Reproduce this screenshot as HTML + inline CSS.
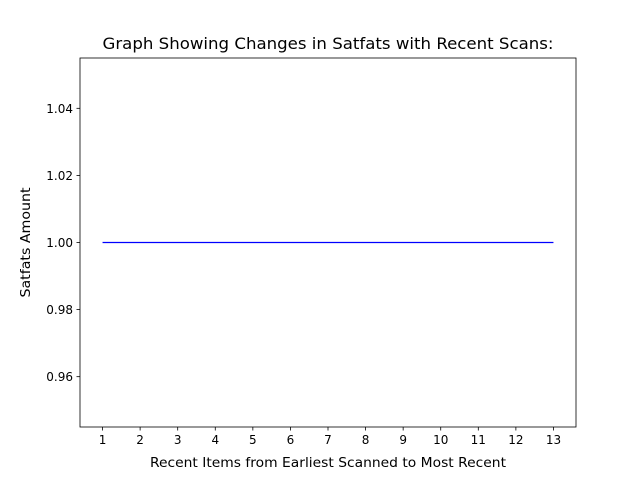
<!DOCTYPE html>
<html><head><meta charset="utf-8"><style>
body{margin:0;background:#fff;}
svg{display:block;font-family:"DejaVu Sans","Liberation Sans",sans-serif;}
</style></head><body>
<svg id="chart" width="640" height="480">
<rect x="0" y="0" width="640" height="480" fill="#fff"/>
<text x="328" y="49" font-size="16" text-anchor="middle" textLength="451" lengthAdjust="spacingAndGlyphs">Graph Showing Changes in Satfats with Recent Scans:</text>
<g id="xt"></g>
<g id="yt"></g>
<g id="series"></g>
<rect x="80" y="58" width="496" height="369" fill="none" stroke="#000" stroke-width="0.8"/>
<text x="328" y="467" font-size="13.5" text-anchor="middle" textLength="356" lengthAdjust="spacingAndGlyphs">Recent Items from Earliest Scanned to Most Recent</text>
<text transform="translate(30,242.5) rotate(-90)" font-size="13.5" text-anchor="middle" textLength="110" lengthAdjust="spacingAndGlyphs">Satfats Amount</text>
</svg>
<script>
const xValues=[1,2,3,4,5,6,7,8,9,10,11,12,13];
const yValues=[1,1,1,1,1,1,1,1,1,1,1,1,1];
const yTicks=[0.96,0.98,1.00,1.02,1.04];
const yTickLabels=["0.96","0.98","1.00","1.02","1.04"];
const NS="http://www.w3.org/2000/svg";
const L=80,R=576,T=58,B=427;
const xmin=Math.min(...xValues),xmax=Math.max(...xValues);
const xpad=(xmax-xmin)*0.05||0.05;
const X0=xmin-xpad,X1=xmax+xpad;
let ymin=Math.min(...yValues),ymax=Math.max(...yValues);
let Y0,Y1;
if(ymax===ymin){Y0=ymin-0.055*Math.abs(ymin||1);Y1=ymax+0.055*Math.abs(ymax||1);}
else{const p=(ymax-ymin)*0.05;Y0=ymin-p;Y1=ymax+p;}
const sx=v=>L+(v-X0)/(X1-X0)*(R-L);
const sy=v=>B-(v-Y0)/(Y1-Y0)*(B-T);
function mk(t,a,p){const e=document.createElementNS(NS,t);for(const k in a)e.setAttribute(k,a[k]);p.appendChild(e);return e;}
const xt=document.getElementById('xt'),yt=document.getElementById('yt');
xValues.forEach(v=>{
  const l=mk('line',{x1:sx(v),x2:sx(v),y1:B,y2:B+3.5,stroke:'#000','stroke-width':0.8},xt);
  
  
  const t=mk('text',{x:sx(v),y:B+17,'font-size':12,'text-anchor':'middle'},xt);
  t.textContent=String(v);
  
  
});
yTicks.forEach((v,i)=>{
  const l=mk('line',{x1:L-3.5,x2:L,y1:sy(v),y2:sy(v),stroke:'#000','stroke-width':0.8},yt);
  
  
  const t=mk('text',{x:L-7,y:sy(v)+4.5,'font-size':12,'text-anchor':'end'},yt);
  t.textContent=yTickLabels[i];
  
  
});
const pts=xValues.map((x,i)=>sx(x)+','+sy(yValues[i])).join(' ');
const pl=mk('polyline',{points:pts,fill:'none',stroke:'#0000ff','stroke-width':1.2},document.getElementById('series'));


</script>
</body></html>
